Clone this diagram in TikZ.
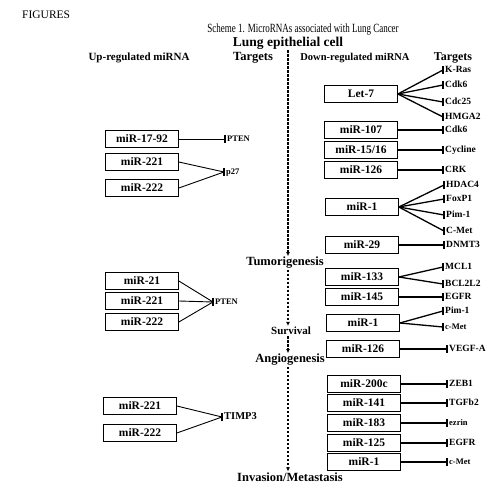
\documentclass[tikz,border=0pt]{standalone}
\usepackage{fontspec}
\setmainfont{Liberation Serif}
\newfontfamily\narrowfont[FakeStretch=0.72]{Liberation Serif}
\usetikzlibrary{arrows.meta,positioning}

\begin{document}
\begin{tikzpicture}[x=1pt, y=-1pt]
    \tikzstyle{mirbox} = [rectangle, draw, line width=0.7pt, minimum width=73pt, minimum height=17pt, inner sep=0pt, font=\bfseries\fontsize{11.5}{12}\selectfont]
    \tikzstyle{target} = [anchor=west, inner xsep=2pt, inner ysep=0pt, text height=6.5pt, text depth=1pt, font=\bfseries\fontsize{9.5}{9.5}\selectfont]
    \tikzstyle{stage} = [inner sep=1pt, font=\bfseries\fontsize{12.5}{12.5}\selectfont]
    \tikzstyle{head} = [font=\bfseries\fontsize{10.5}{10.5}\selectfont]
    \tikzstyle{line} = [draw, line width=1.3pt]
    \tikzstyle{thinline} = [draw, line width=0.9pt]
    \tikzstyle{bar} = [draw, line width=1.2pt]
    \tikzstyle{flow} = [draw, line width=1.1pt, dash pattern=on 2.5pt off 1.5pt, -{Latex[length=4pt,width=4pt]}]

    \useasboundingbox (0,0) rectangle (504,489);

    % Titles
    \node [anchor=west, inner sep=0pt, font=\fontsize{11.5}{11.5}\selectfont] (fig) at (22,15) {FIGURES};
    \node [inner sep=0pt, font=\narrowfont\fontsize{12.5}{12.5}\selectfont] (scheme) at (303,30) {Scheme 1. MicroRNAs associated with Lung Cancer};
    \node [stage, font=\bfseries\fontsize{13.5}{13.5}\selectfont] (lung) at (288,43) {Lung epithelial cell};
    \node [head, font=\bfseries\fontsize{11}{11}\selectfont] (uphead) at (139,58) {Up-regulated miRNA};
    \node [head, font=\bfseries\fontsize{12.5}{12.5}\selectfont] (uptarg) at (253,58) {Targets};
    \node [head] (downhead) at (355,58) {Down-regulated miRNA};
    \node [head, font=\bfseries\fontsize{12}{12}\selectfont] (downtarg) at (453,58) {Targets};

    % Stages
    \node [stage] (tumor) at (285,263) {Tumorigenesis};
    \node [stage, font=\bfseries\fontsize{11}{11}\selectfont] (surv) at (291,331) {Survival};
    \node [stage] (angio) at (290,360) {Angiogenesis};
    \node [stage] (invas) at (290,477) {Invasion/Metastasis};

    % Stage arrows
    \path [flow] (lung.south) -- (lung.south |- tumor.north);
    \path [flow] (lung.south |- tumor.south) -- (lung.south |- surv.north);
    \path [flow] (lung.south |- surv.south) -- (lung.south |- angio.north);
    \path [flow] (lung.south |- angio.south) -- (lung.south |- invas.north);

    % Up-regulated miRNA
    \node [mirbox] (mir1792) at (142,139) {miR-17-92};
    \node [mirbox] (mir221a) at (142,162) {miR-221};
    \node [mirbox] (mir222a) at (142,188) {miR-222};
    \node [mirbox] (mir21) at (142,281) {miR-21};
    \node [mirbox] (mir221b) at (142,301) {miR-221};
    \node [mirbox] (mir222b) at (142,322) {miR-222};
    \node [mirbox] (mir221c) at (140,406) {miR-221};
    \node [mirbox] (mir222c) at (140,433) {miR-222};

    % Up-regulated targets
    \node [target, font=\bfseries\fontsize{8.5}{8.5}\selectfont] (ptena) at (225,139) {PTEN};
    \node [target, font=\bfseries\fontsize{8.5}{8.5}\selectfont] (p27) at (224,172) {p27};
    \node [target, font=\bfseries\fontsize{8.5}{8.5}\selectfont] (ptenb) at (213,302) {PTEN};
    \node [target, font=\bfseries\fontsize{10.5}{10.5}\selectfont] (timp3) at (222,417) {TIMP3};

    % Down-regulated miRNA
    \node [mirbox] (let7) at (361,94) {Let-7};
    \node [mirbox] (mir107) at (361,130) {miR-107};
    \node [mirbox] (mir1516) at (361,150) {miR-15/16};
    \node [mirbox] (mir126a) at (361,170) {miR-126};
    \node [mirbox] (mir1a) at (362,207) {miR-1};
    \node [mirbox] (mir29) at (362,245) {miR-29};
    \node [mirbox] (mir133) at (362,277) {miR-133};
    \node [mirbox] (mir145) at (362,297) {miR-145};
    \node [mirbox] (mir1b) at (363,323) {miR-1};
    \node [mirbox] (mir126b) at (363,349) {miR-126};
    \node [mirbox] (mir200c) at (364,384) {miR-200c};
    \node [mirbox] (mir141) at (364,403) {miR-141};
    \node [mirbox] (mir183) at (364,423) {miR-183};
    \node [mirbox] (mir125) at (364,443) {miR-125};
    \node [mirbox] (mir1c) at (364,462) {miR-1};

    % Down-regulated targets
    \node [target] (kras) at (443,70) {K-Ras};
    \node [target] (cdk6a) at (443,85) {Cdk6};
    \node [target] (cdc25) at (443,102) {Cdc25};
    \node [target] (hmga2) at (443,117) {HMGA2};
    \node [target] (cdk6b) at (443,130) {Cdk6};
    \node [target] (cycline) at (443,150) {Cycline};
    \node [target] (crk) at (443,170) {CRK};
    \node [target] (hdac4) at (444,185) {HDAC4};
    \node [target] (foxp1) at (444,199) {FoxP1};
    \node [target] (pim1a) at (444,215) {Pim-1};
    \node [target] (cmeta) at (444,231) {C-Met};
    \node [target] (dnmt3) at (444,245) {DNMT3};
    \node [target] (mcl1) at (443,267) {MCL1};
    \node [target] (bcl2l2) at (443,284) {BCL2L2};
    \node [target] (egfra) at (443,297) {EGFR};
    \node [target] (pim1b) at (443,311) {Pim-1};
    \node [target, font=\bfseries\fontsize{8.5}{8.5}\selectfont] (cmetb) at (443,327) {c-Met};
    \node [target] (vegfa) at (447,349) {VEGF-A};
    \node [target] (zeb1) at (447,384) {ZEB1};
    \node [target] (tgfb2) at (447,403) {TGFb2};
    \node [target, font=\bfseries\fontsize{8.5}{8.5}\selectfont] (ezrin) at (447,423) {ezrin};
    \node [target] (egfrb) at (447,443) {EGFR};
    \node [target, font=\bfseries\fontsize{8.5}{8.5}\selectfont] (cmetc) at (447,462) {c-Met};

    % Inhibition bars
    \foreach \t in {ptena,p27,ptenb,timp3,kras,cdk6a,cdc25,hmga2,cdk6b,cycline,crk,hdac4,foxp1,pim1a,cmeta,dnmt3,mcl1,bcl2l2,egfra,pim1b,cmetb,vegfa,zeb1,tgfb2,ezrin,egfrb,cmetc}
        \path [bar] (\t.north west) -- (\t.south west);

    % Arrows
    \path [thinline] (mir1792) -- (ptena.west);
    \path [thinline] (mir221a.east) -- (p27.west);
    \path [thinline] (mir222a.east) -- (p27.west);
    \path [thinline] (mir21.east) -- (ptenb.west);
    \path [thinline] (mir221b.east) -- (ptenb.west);
    \path [thinline] (mir222b.east) -- (ptenb.west);
    \path [thinline] (mir221c.east) -- (timp3.west);
    \path [thinline] (mir222c.east) -- (timp3.west);
    \path [line] (let7.east) -- (kras.west);
    \path [line] (let7.east) -- (cdk6a.west);
    \path [line] (let7.east) -- (cdc25.west);
    \path [line] (let7.east) -- (hmga2.west);
    \path [line] (mir107.east) -- (cdk6b.west);
    \path [line] (mir1516.east) -- (cycline.west);
    \path [line] (mir126a.east) -- (crk.west);
    \path [line] (mir1a.east) -- (hdac4.west);
    \path [line] (mir1a.east) -- (foxp1.west);
    \path [line] (mir1a.east) -- (pim1a.west);
    \path [line] (mir1a.east) -- (cmeta.west);
    \path [line] (mir29.east) -- (dnmt3.west);
    \path [line] (mir133.east) -- (mcl1.west);
    \path [line] (mir133.east) -- (bcl2l2.west);
    \path [line] (mir145.east) -- (egfra.west);
    \path [line] (mir1b.east) -- (pim1b.west);
    \path [line] (mir1b.east) -- (cmetb.west);
    \path [line] (mir126b.east) -- (vegfa.west);
    \path [line] (mir200c.east) -- (zeb1.west);
    \path [line] (mir141.east) -- (tgfb2.west);
    \path [line] (mir183.east) -- (ezrin.west);
    \path [line] (mir125.east) -- (egfrb.west);
    \path [line] (mir1c.east) -- (cmetc.west);

\end{tikzpicture}
\end{document}
